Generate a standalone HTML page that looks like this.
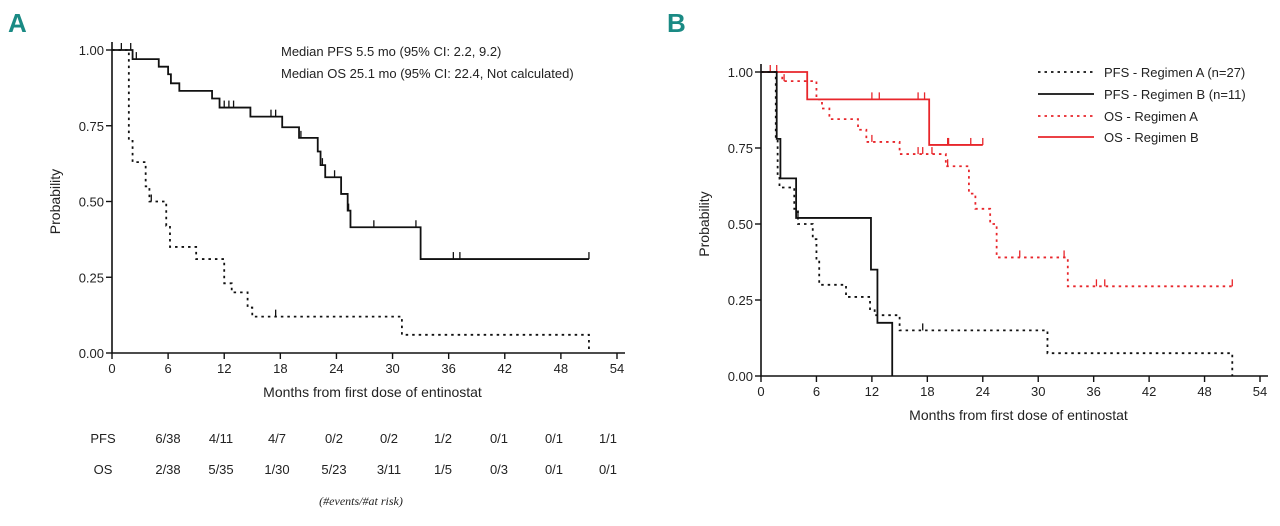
<!DOCTYPE html>
<html><head><meta charset="utf-8"><style>
body{margin:0;background:#fff;width:1280px;height:521px;overflow:hidden}
svg text{font-family:"Liberation Sans",sans-serif;fill:#222}
</style></head><body>
<svg id="s" width="1280" height="521" viewBox="0 0 1280 521">
<text x="8" y="32" style="font-size:26px;font-weight:bold;fill:#1a8a84;font-family:'Liberation Sans Narrow','Liberation Sans',sans-serif">A</text>
<text x="667" y="32" style="font-size:26px;font-weight:bold;fill:#1a8a84;font-family:'Liberation Sans Narrow','Liberation Sans',sans-serif">B</text>
<g id="ga"></g>
<g id="gb"></g>
</svg>
<script>
// Panel A
const aOsT=[0,2.2,5,6,6.3,7.2,10.7,11.5,14.8,18.2,20,22,22.3,22.8,24.5,25.2,25.5,33,51];
const aOsS=[1,0.97,0.945,0.92,0.89,0.865,0.84,0.81,0.78,0.745,0.71,0.665,0.62,0.58,0.525,0.47,0.415,0.31,0.31];
const aOsC=[1,2,2.6,12,12.5,13,17,17.5,20.2,22.5,23.8,25.3,28,32.5,36.5,37.2,51];
const aPfsT=[0,1.8,2.2,3.6,4,5.8,6.2,9,12,12.8,14.5,15,31,51];
const aPfsS=[1,0.7,0.63,0.55,0.5,0.42,0.35,0.31,0.23,0.2,0.15,0.12,0.06,0];
const aPfsC=[4.2,17.5];
// Panel B
const bPfsAT=[0,1.6,1.8,2,2.2,3.6,4,5.6,6,6.3,9.2,11.8,12.3,15,31,51];
const bPfsAS=[1,0.78,0.66,0.62,0.62,0.55,0.5,0.45,0.38,0.3,0.26,0.22,0.2,0.15,0.075,0];
const bPfsAC=[17.5];
const bPfsBT=[0,1.7,2.1,3.8,11.9,12.6,14.2];
const bPfsBS=[1,0.78,0.65,0.52,0.35,0.175,0];
const bPfsBC=[4];
const bOsAT=[0,2.3,6,6.6,7.4,10.5,11.4,15,20,22.5,23.2,24.8,25.5,33.2,51];
const bOsAS=[1,0.97,0.91,0.88,0.845,0.81,0.77,0.73,0.69,0.6,0.55,0.5,0.39,0.295,0.295];
const bOsAC=[2.5,12,17,17.5,18.5,20.2,28,32.8,36.3,37.2,51];
const bOsBT=[0,5,18.2,24];
const bOsBS=[1,0.91,0.76,0.76];
const bOsBC=[1,1.7,12,12.8,17,17.7,20.2,20.3,22.7,24];
const xTicks=[0,6,12,18,24,30,36,42,48,54];
const yTicks=[0,0.25,0.5,0.75,1];
const riskCols=[0,1,2,3,4,5,6,7,8];
const pfsRisk=["6/38","4/11","4/7","0/2","0/2","1/2","0/1","0/1","1/1"];
const osRisk=["2/38","5/35","1/30","5/23","3/11","1/5","0/3","0/1","0/1"];

const NS="http://www.w3.org/2000/svg";
function mk(p,tag,at,txt){const e=document.createElementNS(NS,tag);for(const k in at)e.setAttribute(k,at[k]);if(txt!==undefined)e.textContent=txt;p.appendChild(e);return e;}
function panel(g,x0,x1,y1,y0,pre){
  const sx=t=>x0+(x1-x0)*t/54, sy=v=>y0-(y0-y1)*v;
  const ax=mk(g,'path',{d:`M${x0} ${y1-8}V${y0}H${x1+8}`,fill:'none',stroke:'#111','stroke-width':1.6});
  
  xTicks.forEach(t=>{mk(g,'line',{x1:sx(t),x2:sx(t),y1:y0,y2:y0+6,stroke:'#111','stroke-width':1.4});
    const l=mk(g,'text',{x:sx(t),y:y0+20,'text-anchor':'middle','font-size':13},t);
    });
  yTicks.forEach(v=>{mk(g,'line',{x1:x0-6,x2:x0,y1:sy(v),y2:sy(v),stroke:'#111','stroke-width':1.4});
    const l=mk(g,'text',{x:x0-8,y:sy(v)+5,'text-anchor':'end','font-size':13},v.toFixed(2));
    });
  const yt=mk(g,'text',{transform:`translate(${x0-52},${(y0+y1)/2}) rotate(-90)`,'text-anchor':'middle','font-size':14},'Probability');
  
  const xt=mk(g,'text',{x:(x0+x1)/2+8,y:y0+44,'text-anchor':'middle','font-size':14},'Months from first dose of entinostat');
  
  return {sx,sy};
}
function km(g,sc,T,S,C,col,dash,name){
  let d=`M${sc.sx(T[0])} ${sc.sy(S[0])}`;
  for(let i=1;i<T.length;i++){d+=`H${sc.sx(T[i])}V${sc.sy(S[i])}`;}
  const p=mk(g,'path',{d,fill:'none',stroke:col,'stroke-width':1.8,'stroke-dasharray':dash?'2.5 4':'none'});
  
  C.forEach(c=>{let v=S[0];for(let i=0;i<T.length;i++)if(T[i]<=c)v=S[i];
    const m=mk(g,'line',{x1:sc.sx(c),x2:sc.sx(c),y1:sc.sy(v)-7,y2:sc.sy(v),stroke:col,'stroke-width':1.3});
    });
}
const ga=document.getElementById('ga'), gb=document.getElementById('gb');
const A=panel(ga,112,617,50,353,'a-');
km(ga,A,aOsT,aOsS,aOsC,'#111',false,'a-os-curve');
km(ga,A,aPfsT,aPfsS,aPfsC,'#111',true,'a-pfs-curve');
[['Median PFS 5.5 mo (95% CI: 2.2, 9.2)',56],['Median OS 25.1 mo (95% CI: 22.4, Not calculated)',78]].forEach(([s,y])=>{
  const t=mk(ga,'text',{x:281,y:y,'font-size':13},s);});
const rx=[168,221,277,334,389,443,499,554,608];
[['PFS',438,pfsRisk],['OS',469,osRisk]].forEach(([lab,y,arr])=>{
  const l=mk(ga,'text',{x:103,y:y+5,'text-anchor':'middle','font-size':13},lab);
  
  riskCols.forEach(i=>{const t=mk(ga,'text',{x:rx[i],y:y+5,'text-anchor':'middle','font-size':13},arr[i]);
    });
});
const fn=mk(ga,'text',{x:361,y:505,'text-anchor':'middle','font-size':12,'font-style':'italic',style:"font-family:'Liberation Serif',serif"},'(#events/#at risk)');


const B=panel(gb,761,1260,72,376,'b-');
km(gb,B,bOsAT,bOsAS,bOsAC,'#e8262b',true,'b-os-regimen-a-curve');
km(gb,B,bOsBT,bOsBS,bOsBC,'#e8262b',false,'b-os-regimen-b-curve');
km(gb,B,bPfsAT,bPfsAS,bPfsAC,'#111',true,'b-pfs-regimen-a-curve');
km(gb,B,bPfsBT,bPfsBS,bPfsBC,'#111',false,'b-pfs-regimen-b-curve');
[['PFS - Regimen A (n=27)','#111',true,72],['PFS - Regimen B (n=11)','#111',false,94],['OS - Regimen A','#e8262b',true,116],['OS - Regimen B','#e8262b',false,137]].forEach(([s,c,d,y])=>{
  const e=mk(gb,'g',{});
  mk(e,'line',{x1:1038,x2:1094,y1:y,y2:y,stroke:c,'stroke-width':1.8,'stroke-dasharray':d?'2.5 4':'none'});
  mk(e,'text',{x:1104,y:y+5,'font-size':13},s);
});
</script>
</body></html>
